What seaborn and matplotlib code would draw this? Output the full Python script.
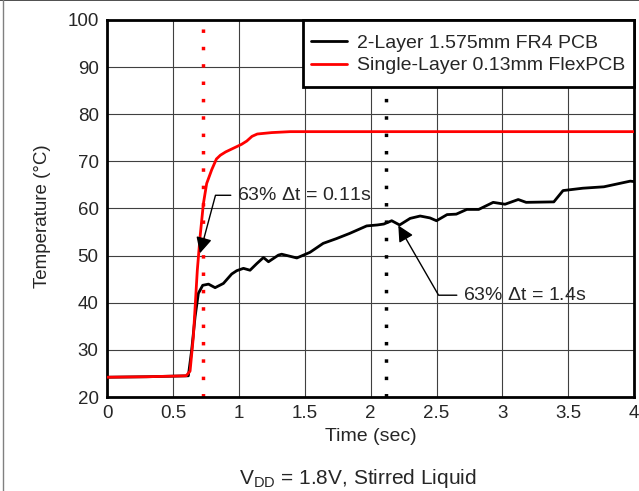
import matplotlib
matplotlib.use('Agg')
import matplotlib.pyplot as plt
from matplotlib.lines import Line2D
from matplotlib.patches import Rectangle
import pandas as pd
import seaborn as sns

# Data
t_flex = [0, 0.3, 0.6, 0.63, 0.655, 0.685, 0.706, 0.731, 0.756, 0.794, 0.83, 0.86,
          0.9, 0.96, 1.02, 1.06, 1.1, 1.14, 1.25, 1.39, 2.0, 3.0, 4.0]
temp_flex = [24.2, 24.3, 24.5, 25.5, 32.8, 46.9, 54.0, 61.0, 65.3, 68.2, 70.5, 71.3,
             72.0, 72.8, 73.6, 74.3, 75.3, 75.8, 76.1, 76.3, 76.3, 76.3, 76.3]

t_fr4 = [0, 0.3, 0.617, 0.642, 0.668, 0.693, 0.726, 0.77, 0.82, 0.883, 0.946, 0.984,
         1.035, 1.085, 1.136, 1.187, 1.225, 1.30, 1.325, 1.44, 1.54, 1.64, 1.74, 1.84,
         1.97, 2.05, 2.1, 2.16, 2.22, 2.30, 2.376, 2.45, 2.5, 2.58, 2.65, 2.73, 2.82,
         2.93, 3.02, 3.12, 3.18, 3.39, 3.46, 3.61, 3.77, 3.97, 4.0]
temp_fr4 = [24.2, 24.3, 24.5, 29.9, 37.0, 42.0, 43.7, 43.95, 43.2, 44.1, 46.1, 46.8,
            47.3, 46.9, 48.3, 49.6, 48.7, 50.1, 50.3, 49.5, 50.7, 52.6, 53.6, 54.7,
            56.3, 56.5, 56.7, 57.4, 56.5, 57.9, 58.4, 58.0, 57.4, 58.7, 58.8, 59.8, 59.8,
            61.3, 60.9, 61.9, 61.3, 61.4, 63.8, 64.3, 64.6, 65.8, 65.7]

labels = ['2-Layer 1.575mm FR4 PCB', 'Single-Layer 0.13mm FlexPCB']
tau_flex = 0.73
tau_fr4 = 2.12
x_ticks = [0, 0.5, 1, 1.5, 2, 2.5, 3, 3.5, 4]
x_tick_labels = ['0', '0.5', '1', '1.5', '2', '2.5', '3', '3.5', '4']
y_ticks = [20, 30, 40, 50, 60, 70, 80, 90, 100]

df = pd.concat([
    pd.DataFrame({'t': t_fr4, 'temp': temp_fr4, 'board': labels[0]}),
    pd.DataFrame({'t': t_flex, 'temp': temp_flex, 'board': labels[1]}),
])

sns.set_style('white')
plt.rcParams['font.family'] = ['Liberation Sans', 'DejaVu Sans']
plt.rcParams['mathtext.fontset'] = 'custom'
plt.rcParams['mathtext.rm'] = 'Liberation Sans'
plt.rcParams['mathtext.it'] = 'Liberation Sans'

fig = plt.figure(figsize=(6.39, 4.91), dpi=100)
ax = fig.add_axes([0.1675, 0.1914, 0.825, 0.768])

# dotted time-constant markers
ax.axvline(tau_flex, color='red', lw=2.5, ls=(0, (1, 4)), dash_capstyle='butt', zorder=2)
ax.axvline(tau_fr4, color='black', lw=2.5, ls=(0, (1, 4)), dash_capstyle='butt', zorder=2)

sns.lineplot(data=df, x='t', y='temp', hue='board', palette=['black', 'red'],
             linewidth=2, sort=False, ax=ax, zorder=3)

ax.set_xlim(0, 4)
ax.set_ylim(20, 100)
ax.set_xticks(x_ticks)
ax.set_xticklabels(x_tick_labels)
ax.set_yticks(y_ticks)
ax.tick_params(labelsize=13.5, length=0, pad=6)
ax.grid(True, color='#404040', lw=0.8)
for s in ax.spines.values():
    s.set_linewidth(2)
    s.set_color('black')
    s.set_visible(True)

ax.set_xlabel('Time (sec)', fontsize=14, labelpad=4)
ax.set_ylabel('Temperature (°C)', fontsize=13.5)
ax.yaxis.set_label_coords(-0.107, 0.48)

# legend box drawn by hand so its height matches the reference
ax.add_patch(Rectangle((0.372, 0.822), 0.628, 0.178, transform=ax.transAxes,
                       facecolor='white', edgecolor='black', lw=2, zorder=4,
                       clip_on=False))
leg = ax.legend(loc='upper right', bbox_to_anchor=(1.0, 0.985), fontsize=14,
                frameon=False, borderaxespad=0, handlelength=1.9,
                handletextpad=0.5, borderpad=0.45, labelspacing=0.25)
leg.set_zorder(5)

ax.annotate('63% $\\Delta$t = 0.11s', xy=(0.705, 50.5), xytext=(0.985, 62.8),
            fontsize=14, va='center', ha='left',
            arrowprops=dict(arrowstyle='-|>', color='black', lw=1, mutation_scale=24,
                            connectionstyle='angle,angleA=0,angleB=75,rad=0',
                            shrinkA=2, shrinkB=0))
ax.annotate('63% $\\Delta$t = 1.4s', xy=(2.21, 56.4), xytext=(2.70, 41.6),
            fontsize=14, va='center', ha='left',
            arrowprops=dict(arrowstyle='-|>', color='black', lw=1, mutation_scale=24,
                            connectionstyle='angle,angleA=0,angleB=-60,rad=0',
                            shrinkA=2, shrinkB=0))

fig.text(0.56, 0.015, 'V$_{\\mathrm{DD}}$ = 1.8V, Stirred Liquid', fontsize=15, ha='center')

# figure frame (top and left edges visible in the reference)
fig.add_artist(Line2D([0, 1], [0.999, 0.999], color='#303030', lw=1.2))
fig.add_artist(Line2D([0.005, 0.005], [0, 1], color='#808080', lw=1))

fig.savefig('out.png', dpi=100)
